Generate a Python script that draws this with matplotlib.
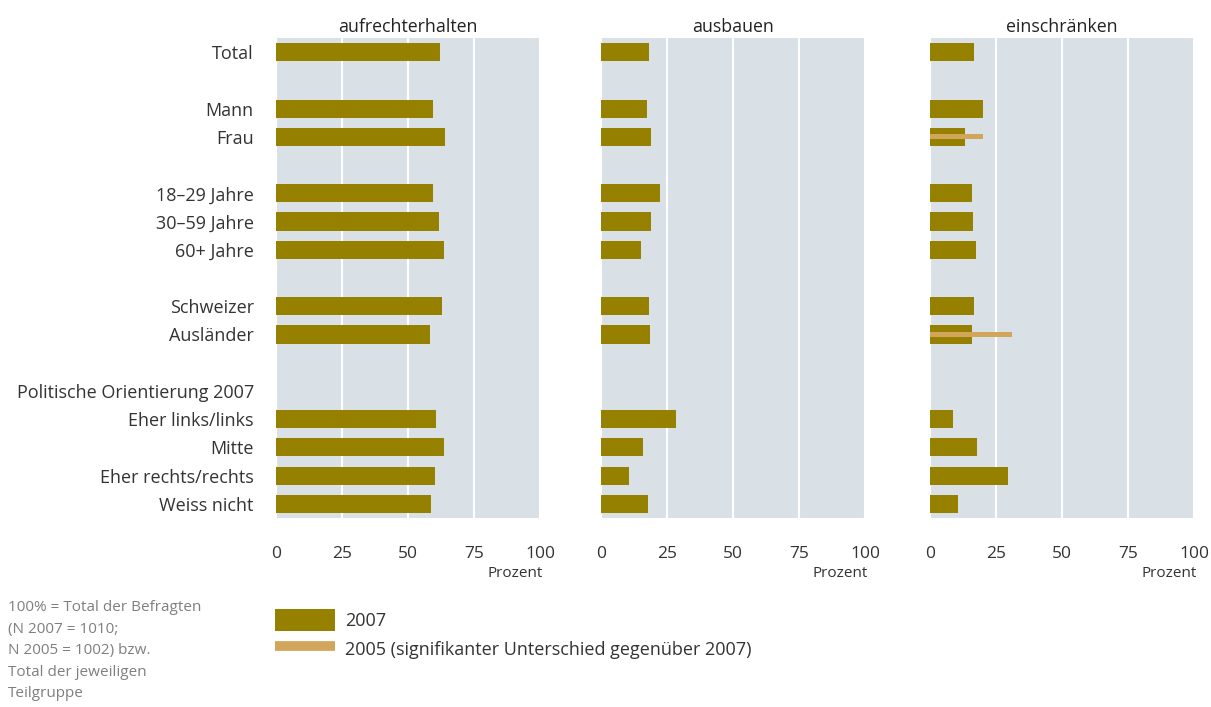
import numpy as np
import matplotlib.pyplot as plt
from matplotlib.patches import Patch
from matplotlib.lines import Line2D

plt.rcParams['font.family'] = ['Open Sans', 'DejaVu Sans']

# row labels (blank entries are spacer rows)
labels = ['Total', '', 'Mann', 'Frau', '', '18–29 Jahre', '30–59 Jahre', '60+ Jahre', '',
          'Schweizer', 'Ausländer', '', 'Politische Orientierung 2007',
          'Eher links/links', 'Mitte', 'Eher rechts/rechts', 'Weiss nicht']
panels = ['aufrechterhalten', 'ausbauen', 'einschränken']

nan = np.nan
# 2007 values per panel, in row order
aufrecht_2007 = [62, nan, 59.5, 64, nan, 59.5, 61.7, 63.6, nan, 62.9, 58.3, nan, nan, 60.6, 63.6, 60.2, 58.7]
ausbauen_2007 = [18.2, nan, 17.4, 18.9, nan, 22.3, 18.9, 15.2, nan, 18.2, 18.6, nan, nan, 28.4, 15.9, 10.6, 17.8]
einschr_2007 = [16.7, nan, 20.1, 13.3, nan, 15.9, 16.3, 17.4, nan, 16.7, 15.9, nan, nan, 8.7, 17.8, 29.5, 10.6]
# 2005 values only where significantly different
aufrecht_2005 = [nan] * 17
ausbauen_2005 = [nan] * 17
einschr_2005 = [nan, nan, nan, 20.1, nan, nan, nan, nan, nan, nan, 31.1, nan, nan, nan, nan, nan, nan]

data_2007 = [aufrecht_2007, ausbauen_2007, einschr_2007]
data_2005 = [aufrecht_2005, ausbauen_2005, einschr_2005]

c2007 = '#968000'
c2005 = '#d1a55a'
bg = '#d9e0e6'
txt = '#333333'

W, H = 1211, 707
fig = plt.figure(figsize=(W / 100, H / 100), dpi=100)

lefts = [276, 601, 930]
y = np.arange(len(labels))
for i, (name, v07, v05) in enumerate(zip(panels, data_2007, data_2005)):
    ax = fig.add_axes([lefts[i] / W, 1 - 518 / H, 264 / W, 480 / H])
    ax.set_facecolor(bg)
    for s in ax.spines.values():
        s.set_visible(False)
    ax.barh(y, v07, height=0.64, color=c2007, zorder=2)
    ax.barh(y, v05, height=0.18, color=c2005, zorder=3)
    ax.set_xlim(0, 100)
    ax.set_ylim(16.5, -0.5)
    ax.set_xticks([0, 25, 50, 75, 100])
    ax.grid(axis='x', color='white', linewidth=1.5, zorder=1)
    ax.tick_params(axis='x', length=0, pad=20, labelsize=12.5, labelcolor=txt)
    ax.tick_params(axis='y', length=0)
    ax.set_title(name, fontsize=12.8, color='#222222', fontweight='medium', pad=4)
    if i == 0:
        ax.set_yticks(y)
        ax.set_yticklabels(labels, fontsize=13, color=txt)
        ax.tick_params(axis='y', pad=16)
    else:
        ax.set_yticks([])
    ax.text(1.01, -0.1, 'Prozent', transform=ax.transAxes, ha='right', va='top',
            fontsize=11, color=txt)

note = ('100% = Total der Befragten\n(N 2007 = 1010;\nN 2005 = 1002) bzw.\n'
        'Total der jeweiligen\nTeilgruppe')
fig.text(8 / W, 1 - 600 / H, note, ha='left', va='top', fontsize=11, color='#7f7f7f',
         linespacing=1.6)

handles = [Patch(facecolor=c2007, edgecolor='none'),
           Line2D([], [], color=c2005, linewidth=7, solid_capstyle='butt')]
fig.legend(handles, ['2007', '2005 (signifikanter Unterschied gegenüber 2007)'],
           loc='upper left', bbox_to_anchor=(259 / W, 1 - 593 / H), frameon=False,
           fontsize=13, handlelength=3.3, handleheight=1.5, labelspacing=0.35,
           handletextpad=0.55, labelcolor=txt)

fig.savefig('out.png', dpi=100)
